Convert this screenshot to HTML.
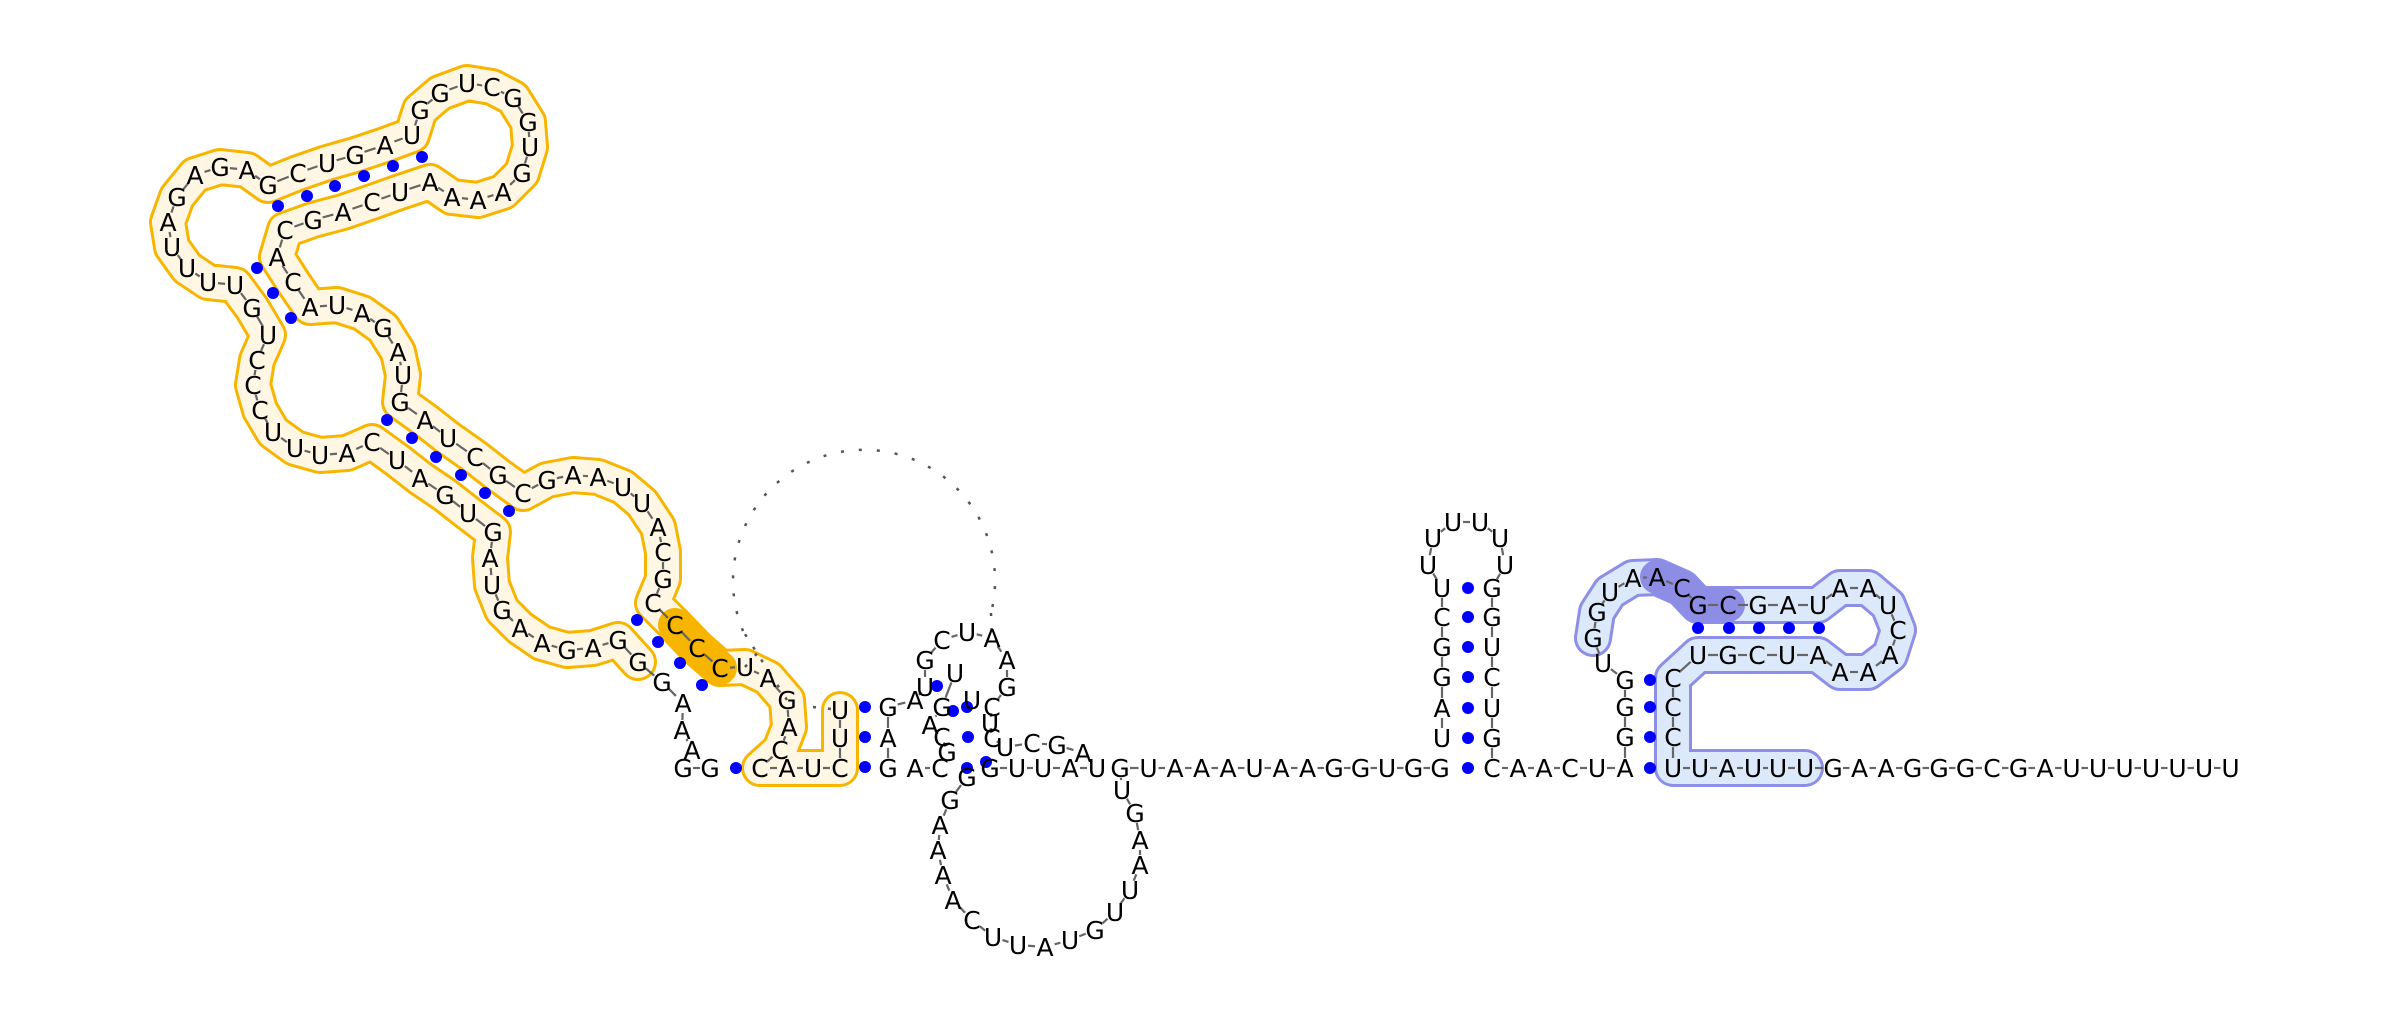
<!DOCTYPE html>
<html><head><meta charset="utf-8"><title>RNA secondary structure</title>
<style>
html,body{margin:0;padding:0;background:#fff;}
svg{display:block;}
text{font-family:"DejaVu Sans","Liberation Sans",sans-serif;font-size:25px;fill:#000;}
</style></head>
<body>
<svg id="chart" width="2400" height="1025" viewBox="0 0 2400 1025" xmlns="http://www.w3.org/2000/svg">
<g id="bands"></g>
<g id="pseudo"></g>
<g id="links"></g>
<g id="pairs"></g>
<g id="bases"></g>
</svg>
<script>
// Left domain (orange-highlighted region plus 5' tail)
const chainLeft = [
["G",710,768],["G",683,768],["A",692,750],["A",682,730],["A",683,703],["G",662,682],["G",638,662],["G",618,640],
["A",593,648],["G",567,650],["A",542,643],["A",520,628],["G",502,610],["U",492,585],["A",490,558],["G",493,532],
["U",468,513],["G",445,495],["A",420,478],["U",397,460],["C",372,442],["A",347,453],["U",320,455],["U",295,448],
["U",273,432],["C",260,410],["C",253,385],["C",257,360],["U",268,335],["G",252,308],["U",235,285],["U",208,282],
["U",187,268],["U",172,247],["A",168,222],["G",177,197],["A",195,175],["G",220,167],["A",247,170],["G",268,185],
["C",298,173],["U",327,163],["G",355,155],["A",385,145],["U",412,135],["G",420,110],["G",440,93],["U",467,83],
["C",492,87],["G",513,98],["G",528,122],["U",530,147],["G",522,173],["A",503,192],["A",478,200],["A",452,197],
["A",430,182],["U",400,192],["C",372,202],["A",343,212],["G",313,220],["C",285,230],["A",277,257],["C",293,282],
["A",310,307],["U",337,305],["A",362,313],["G",383,328],["A",398,352],["U",403,375],["G",400,402],["A",425,420],
["U",448,438],["C",475,457],["G",498,475],["C",523,493],["G",547,480],["A",573,475],["A",598,477],["U",623,487],
["U",642,503],["A",658,527],["C",663,552],["G",663,579],["C",653,603],["C",675,625],["C",697,648],["C",720,668],
["U",745,667],["A",768,678],["G",787,700],["A",789,727],["C",780,750],["C",760,768],["A",787,768],["U",813,768],
["C",840,768],["U",840,738],["U",840,710]
];
const orangeBand = [6, 98];
const orangeStrong = [85, 87];

// Middle multiloop
const chainMid1 = [["G",888,768],["A",888,738],["G",888,707],["A",915,700],["U",925,687],["G",925,660],["C",942,640],
["U",967,632],["A",992,638],["A",1007,660],["G",1007,687],["C",992,707],["U",990,723],["C",992,738],["U",1005,747],
["C",1032,743],["G",1057,745],["A",1083,753],["U",1097,768]];
const chainMid2 = [["A",915,768],["C",940,768]];
const chainMid3 = [["U",955,673],["G",942,707],["A",930,725],["C",942,737],["G",947,752]];
const chainMid4 = [["U",972,700]];
const chainBase1 = [["G",990,768],["U",1017,768],["U",1043,768],["A",1070,768],["U",1097,768]];
const chainLoop = [["G",967,777],["G",950,800],["A",940,825],["A",938,850],["A",943,875],["A",953,900],["C",972,920],
["U",993,937],["U",1018,945],["A",1045,947],["U",1070,940],["G",1095,930],["U",1115,912],["U",1130,890],
["A",1140,865],["A",1140,840],["G",1135,813],["U",1122,790],["G",1120,768]];

// Right part: baseline letters and hairpins
const baseSeqA = "UAAAUAAGGUGG";
const baseSeqB = "GAAGGGCGAUUUUUUU";
const chainHair = [["U",1442,738],["A",1442,708],["G",1442,677],["G",1442,647],["C",1442,617],["U",1442,588],
["U",1428,565],["U",1433,538],["U",1453,522],["U",1480,522],["U",1500,538],["U",1505,565],
["G",1492,588],["G",1492,617],["U",1492,647],["C",1492,677],["U",1492,708],["G",1492,738],["C",1492,768],
["A",1518,768],["A",1544,768],["C",1570,768],["U",1597,768],["A",1625,768]];
const chainRight = [["A",1625,768],["G",1625,737],["G",1625,707],["G",1625,680],["U",1603,663],["G",1593,638],["G",1597,612],
["U",1610,592],["A",1633,578],["A",1657,577],["C",1682,588],["G",1698,605],["C",1728,605],["G",1758,605],
["A",1788,605],["U",1818,605],["A",1840,588],["A",1868,588],["U",1888,605],["C",1898,630],["A",1890,655],
["A",1868,672],["A",1840,672],["A",1818,655],["U",1787,655],["C",1757,655],["G",1728,655],["U",1698,655],
["C",1673,678],["C",1673,707],["C",1673,737],["U",1673,768],["U",1700,768],["A",1727,768],["U",1753,768],
["U",1778,768],["U",1805,768]];
const blueBand = [5, 36];
const blueStrong = [9, 12];

const pairDots = [[278,206],[307,196],[335,186],[364,176],[393,166],[422,157],[257,268],[273,293],[291,318],
[387,420],[412,438],[436,457],[461,475],[485,493],[509,511],[637,620],[658,642],[680,663],[702,685],[736,768],
[865,707],[865,737],[865,767],[937,686],[953,711],[967,707],[968,737],[967,768],[986,762],
[1468,768],[1468,738],[1468,708],[1468,677],[1468,647],[1468,617],[1468,588],
[1650,768],[1650,737],[1650,707],[1650,680],[1698,628],[1729,628],[1759,628],[1789,628],[1819,628]];

const NS="http://www.w3.org/2000/svg";
const gB=document.getElementById('bands'),gL=document.getElementById('links'),gP=document.getElementById('pairs'),gT=document.getElementById('bases'),gPs=document.getElementById('pseudo');

function mk(t,a){const e=document.createElementNS(NS,t);for(const k in a)e.setAttribute(k,a[k]);return e;}
function pts(ch,i0,i1){return ch.slice(i0,i1+1).map(p=>p[1]+","+p[2]).join(" ");}
function band(ch,i0,i1,outer,inner,w,name){
  const o=mk('polyline',{points:pts(ch,i0,i1),fill:'none',stroke:outer,'stroke-width':w+6,'stroke-linejoin':'round','stroke-linecap':'round'});
  
  
  gB.appendChild(o);
  const n=mk('polyline',{points:pts(ch,i0,i1),fill:'none',stroke:inner,'stroke-width':w,'stroke-linejoin':'round','stroke-linecap':'round'});
  
  
  gB.appendChild(n);
}
function strong(ch,i0,i1,col,name){
  const n=mk('polyline',{points:pts(ch,i0,i1),fill:'none',stroke:col,'stroke-width':34,'stroke-linejoin':'round','stroke-linecap':'round'});
  
  
  gB.appendChild(n);
}
band(chainLeft,orangeBand[0],orangeBand[1],'#f7b500','#fff7e3',32,'orange-highlight');
strong(chainLeft,orangeStrong[0],orangeStrong[1],'#f7b500','orange-strong-highlight');
band(chainRight,blueBand[0],blueBand[1],'#8c8ee8','#dce9fb',32,'blue-highlight');
strong(chainRight,blueStrong[0],blueStrong[1],'#8e8de6','blue-strong-highlight');

// pseudoknot dotted arc
const arc=mk('path',{d:'M743,631 A131,131 0 1 1 991,613',fill:'none',stroke:'#555','stroke-width':2.5,'stroke-dasharray':'3 15'});


gPs.appendChild(arc);
[[787,700,743,631],[745,667,760,650],[813,707,840,710],[991,613,992,638]].forEach(s=>{
  const l=mk('line',{x1:s[0],y1:s[1],x2:s[2],y2:s[3],stroke:'#555','stroke-width':2.5,'stroke-dasharray':'3 12'});
  
  
  gPs.appendChild(l);
});

function baseline(seq,x0,step,y){return seq.split('').map((c,i)=>[c,x0+i*step,y]);}
const chainBaseA=[["G",1120,768]].concat(baseline(baseSeqA,1148.5,26.5,768));
const chainBaseB=[["U",1805,768]].concat(baseline(baseSeqB,1833,26.5,768));

const chains=[chainLeft,chainMid1,chainMid2,chainMid3,chainMid4,chainBase1,chainLoop,chainBaseA,chainHair,chainRight,chainBaseB];
const drawn=new Set();
chains.forEach(ch=>{
  for(let i=0;i<ch.length-1;i++){
    const a=ch[i],b=ch[i+1];const dx=b[1]-a[1],dy=b[2]-a[2];const d=Math.hypot(dx,dy);
    if(d<12||d>48)continue;
    const t=10/d;
    const l=mk('line',{x1:a[1]+dx*t,y1:a[2]+dy*t,x2:b[1]-dx*t,y2:b[2]-dy*t,stroke:'#666','stroke-width':2.2});
    
    
    gL.appendChild(l);
  }
  ch.forEach(p=>{
    const key=p[0]+p[1]+","+p[2];
    if(drawn.has(key))return;drawn.add(key);
    const t=mk('text',{x:p[1],y:p[2]+9,'text-anchor':'middle'});
    t.textContent=p[0];
    
    
    gT.appendChild(t);
  });
});
pairDots.forEach(p=>{
  const c=mk('circle',{cx:p[0],cy:p[1],r:6,fill:'#0000ff'});
  
  
  gP.appendChild(c);
});
</script>
</body></html>
